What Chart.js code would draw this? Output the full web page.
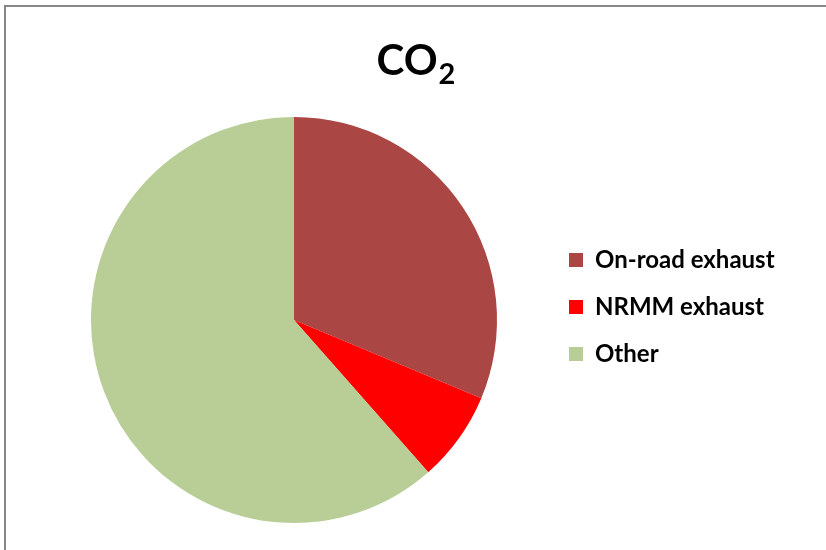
<!DOCTYPE html>
<html>
<head>
<meta charset="utf-8">
<script src="https://cdn.jsdelivr.net/npm/chart.js@4/dist/chart.umd.min.js"></script>
<style>
  html, body { margin: 0; padding: 0; background: #fff; overflow: hidden; }
  #wrap { position: relative; width: 826px; height: 550px; }
  #frame { position: absolute; left: 4px; top: 5px; width: 840px; height: 560px;
           border-top: 2px solid #878787; border-left: 2px solid #878787; }
  canvas { position: absolute; left: 0; top: 0; }
</style>
</head>
<body>
<div id="wrap">
  <div id="frame"></div>
  <canvas id="pie" width="826" height="550"></canvas>
</div>
<script>
// values (share of CO2, %)
const categories = ['On-road exhaust', 'NRMM exhaust', 'Other'];
const shares = [31.3, 7.2, 61.5];
const sliceColours = ['#AA4643', '#FF0000', '#B9CD96'];
const titleMain = 'CO';
const titleSub = '2';

const legendSize = 24;
const legendPad = 23;
const boxW = 14;

// size the right padding so the legend box lands where it should
const canvas = document.getElementById('pie');
const mctx = canvas.getContext('2d');
mctx.font = 'bold ' + legendSize + 'px Lato';
const textW = Math.max(...categories.map(c => mctx.measureText(c).width));
const legendLeft = 546;
const legendW = legendPad + boxW + legendSize / 2 + textW + 10;

// title with a real subscript, drawn in the top padding
const subTitle = {
    id: 'subTitle',
    afterDraw(chart) {
        const ctx = chart.ctx;
        ctx.save();
        ctx.fillStyle = '#000';
        ctx.textBaseline = 'alphabetic';
        ctx.font = 'bold 42px Lato';
        const w1 = ctx.measureText(titleMain).width;
        ctx.font = 'bold 29px Lato';
        const w2 = ctx.measureText(titleSub).width;
        const x0 = 416 - (w1 + w2 + 1) / 2;
        ctx.font = 'bold 42px Lato';
        ctx.fillText(titleMain, x0, 75);
        ctx.font = 'bold 29px Lato';
        ctx.fillText(titleSub, x0 + w1 + 1, 84);
        ctx.restore();
    }
};

// legend sits a little above the pie's middle in the original
const liftLegend = {
    id: 'liftLegend',
    afterLayout(chart) {
        chart.legend.top -= 13;
        chart.legend.bottom -= 13;
    }
};

new Chart(canvas, {
    type: 'pie',
    data: {
        labels: categories,
        datasets: [{
            data: shares,
            backgroundColor: sliceColours,
            borderWidth: 0
        }]
    },
    options: {
        responsive: false,
        animation: false,
        layout: {
            padding: { top: 117, bottom: 27, left: 42, right: 826 - legendLeft - legendW }
        },
        plugins: {
            title: { display: false },
            tooltip: { enabled: false },
            legend: {
                position: 'right',
                labels: {
                    boxWidth: boxW,
                    boxHeight: boxW,
                    padding: legendPad,
                    color: '#000',
                    font: { family: 'Lato', size: legendSize, weight: 'bold' }
                }
            }
        }
    },
    plugins: [subTitle, liftLegend]
});
</script>
</body>
</html>
